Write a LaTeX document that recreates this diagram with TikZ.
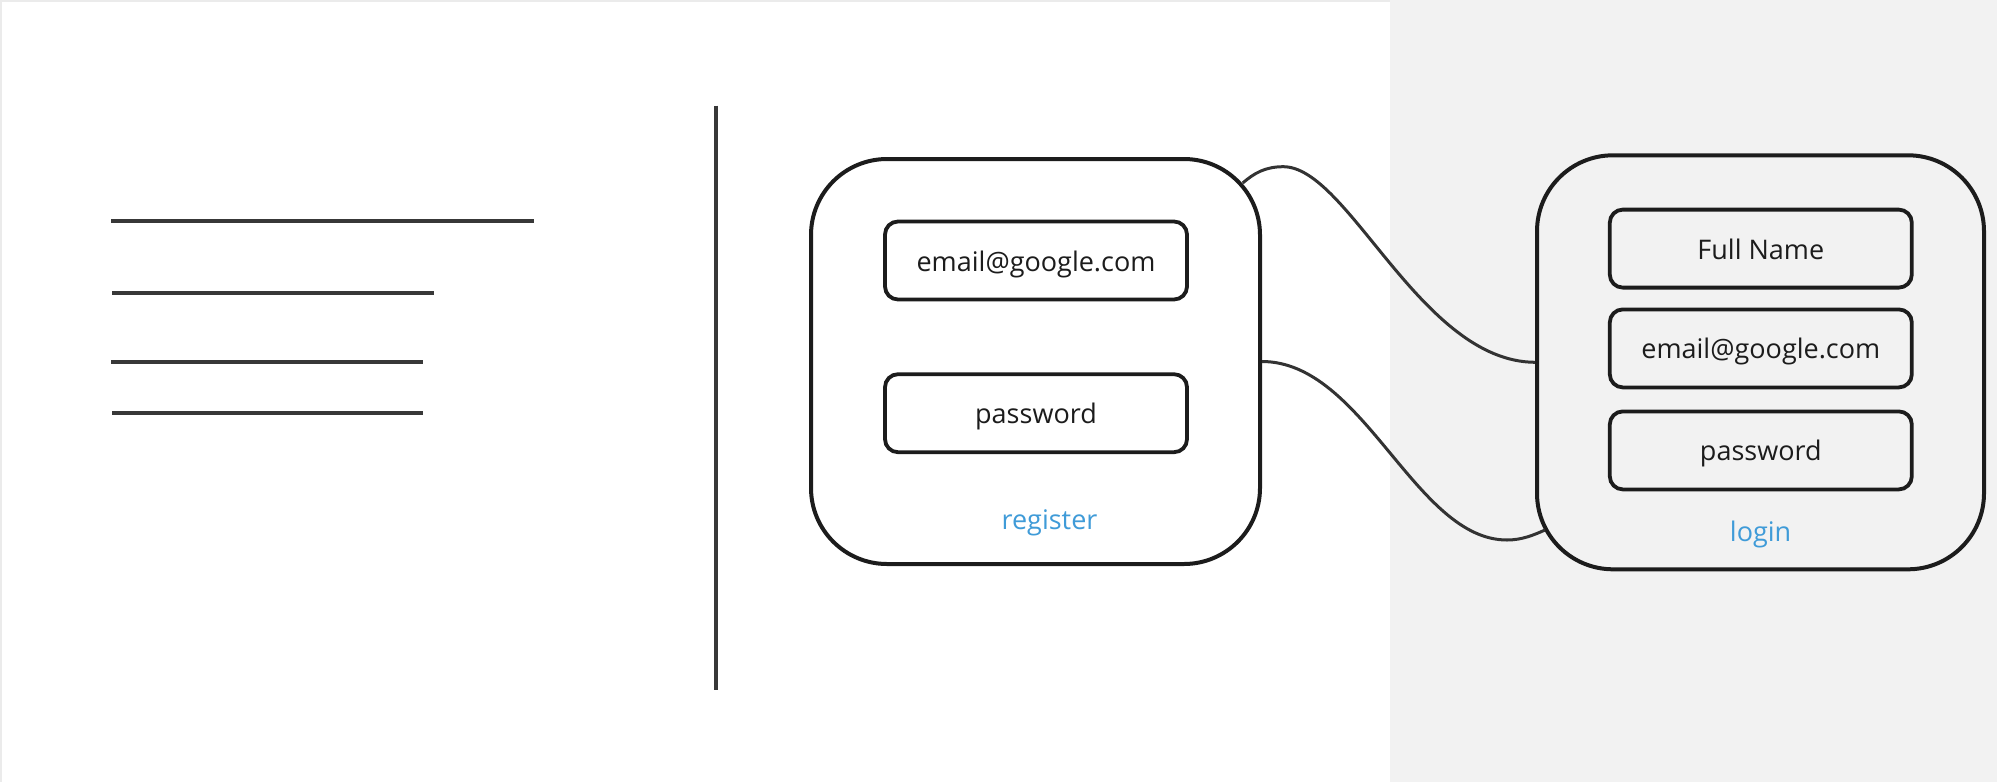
\documentclass[tikz,border=0pt]{standalone}
\usepackage{fontspec}
\setmainfont{Open Sans}
\usetikzlibrary{calc}
\definecolor{ink}{HTML}{1C1C1C}
\definecolor{wirec}{HTML}{333333}
\definecolor{rulec}{HTML}{383838}
\definecolor{panel}{HTML}{F2F2F2}
\definecolor{linkblue}{HTML}{3F9BD8}
\definecolor{edgec}{HTML}{EBEBEB}
\begin{document}
\begin{tikzpicture}[x=0.5pt,y=-0.5pt,
  uicard/.style={draw=ink, line width=2pt, rounded corners=38pt, rectangle, inner sep=0pt},
  uifield/.style={draw=ink, line width=1.9pt, rounded corners=6.5pt, rectangle, inner sep=0pt,
    minimum width=151pt, minimum height=39pt, text height=12pt, text depth=1.5pt,
    font=\fontsize{13.5pt}{16pt}\selectfont, text=ink},
  uicaption/.style={font=\fontsize{13.5pt}{16pt}\selectfont, text=linkblue, inner sep=0pt},
  uirule/.style={draw=rulec, line width=2.2pt},
  uiwire/.style={draw=wirec, line width=1.5pt}]
\useasboundingbox (0,0) rectangle (1997,782);
% backgrounds
\fill[panel] (1390,0) rectangle (1997,782);
\draw[edgec, line width=0.6pt] (1,782) -- (1,1) -- (1390,1);
% left sketch lines
\coordinate (l1a) at (111,220.8); \coordinate (l1b) at (533.6,220.8);
\coordinate (l2a) at (112,293.2); \coordinate (l2b) at (434.3,293.2);
\coordinate (l3a) at (111,362); \coordinate (l3b) at (422.8,362);
\coordinate (l4a) at (112,413); \coordinate (l4b) at (422.8,413);
\coordinate (vt) at (715.8,105.7); \coordinate (vb) at (715.8,690.3);
\draw[uirule] (l1a) -- (l1b);
\draw[uirule] (l2a) -- (l2b);
\draw[uirule] (l3a) -- (l3b);
\draw[uirule] (l4a) -- (l4b);
\draw[uirule] (vt) -- (vb);
% register card
\node[uicard, fill=white, minimum width=224.5pt, minimum height=202.5pt] (reg) at (1035.5,361.5) {};
\node[uifield] (regmail) at (1036,260.5) {email@google.com};
\node[uifield] (regpass) at (1036,413.2) {password};
\node[uicaption] (reglabel) at (1049.5,523) {register};
% login card
\node[uicard, minimum width=223.5pt, minimum height=207pt] (login) at (1760.5,362.3) {};
\node[uifield] (logname) at (1760.8,248.6) {Full Name};
\node[uifield] (logmail) at (1760.8,348.4) {email@google.com};
\node[uifield] (logpass) at (1760.8,450.4) {password};
\node[uicaption] (loglabel) at (1760.6,534.5) {login};
% connectors
\coordinate (s1) at ($(reg.north east)+(-19.3,26)$);
\coordinate (p1) at (1283.3,166.7);
\coordinate (e2) at ($(login.south west)+(10,-41.3)$);
\coordinate (p2) at (1507,540);
\draw[uiwire] (s1) .. controls (1254.2,173.1) and (1265.3,166.7) .. (p1)
  .. controls (1348.3,166.7) and (1421,361.7) .. (login.west);
\draw[uiwire] (reg.east) .. controls (1364,361.7) and (1415,540) .. (p2)
  .. controls (1522,540) and (1533.7,535) .. (e2);
\end{tikzpicture}
\end{document}
